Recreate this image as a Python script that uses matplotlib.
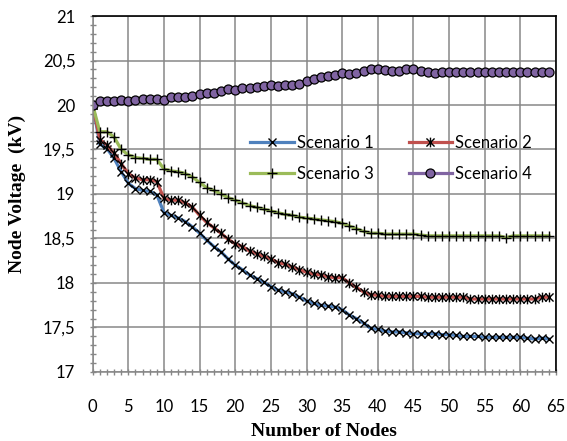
import matplotlib
matplotlib.use("Agg")
import matplotlib.pyplot as plt
from matplotlib.path import Path
from matplotlib.ticker import MultipleLocator, FuncFormatter

nodes = list(range(65))

scenario_1 = [20.00, 19.56, 19.51, 19.40, 19.25, 19.12, 19.06, 19.04, 19.03, 18.99,
              18.79, 18.76, 18.73, 18.69, 18.63, 18.56, 18.48, 18.41, 18.35, 18.27,
              18.20, 18.15, 18.09, 18.05, 18.01, 17.96, 17.92, 17.90, 17.88, 17.84,
              17.80, 17.77, 17.75, 17.74, 17.73, 17.70, 17.64, 17.60, 17.55, 17.49,
              17.48, 17.46, 17.45, 17.45, 17.44, 17.43, 17.43, 17.43, 17.43, 17.42,
              17.42, 17.41, 17.40, 17.40, 17.40, 17.39, 17.39, 17.39, 17.39, 17.39,
              17.39, 17.38, 17.37, 17.38, 17.37]

scenario_2 = [20.00, 19.61, 19.55, 19.46, 19.34, 19.23, 19.18, 19.16, 19.16, 19.14,
              18.95, 18.93, 18.93, 18.90, 18.85, 18.76, 18.68, 18.62, 18.56, 18.49,
              18.44, 18.41, 18.36, 18.33, 18.30, 18.27, 18.23, 18.21, 18.18, 18.15,
              18.12, 18.10, 18.09, 18.07, 18.06, 18.06, 18.00, 17.95, 17.90, 17.87,
              17.86, 17.85, 17.85, 17.85, 17.85, 17.85, 17.85, 17.84, 17.84, 17.84,
              17.84, 17.84, 17.84, 17.82, 17.82, 17.82, 17.82, 17.82, 17.82, 17.82,
              17.82, 17.82, 17.82, 17.84, 17.84]

scenario_3 = [20.00, 19.70, 19.70, 19.64, 19.50, 19.44, 19.41, 19.40, 19.39, 19.39,
              19.28, 19.26, 19.25, 19.23, 19.19, 19.13, 19.07, 19.04, 19.00, 18.96,
              18.93, 18.90, 18.87, 18.85, 18.83, 18.81, 18.79, 18.77, 18.76, 18.74,
              18.73, 18.72, 18.71, 18.70, 18.69, 18.67, 18.64, 18.61, 18.58, 18.56,
              18.56, 18.55, 18.55, 18.55, 18.55, 18.55, 18.54, 18.53, 18.53, 18.53,
              18.53, 18.53, 18.53, 18.53, 18.53, 18.53, 18.53, 18.53, 18.51, 18.53,
              18.53, 18.53, 18.53, 18.53, 18.53]

scenario_4 = [20.00, 20.04, 20.05, 20.04, 20.06, 20.05, 20.06, 20.07, 20.07, 20.07,
              20.06, 20.09, 20.09, 20.09, 20.10, 20.12, 20.13, 20.14, 20.16, 20.18,
              20.17, 20.19, 20.19, 20.20, 20.21, 20.22, 20.21, 20.22, 20.22, 20.24,
              20.27, 20.29, 20.31, 20.33, 20.34, 20.36, 20.35, 20.36, 20.38, 20.40,
              20.41, 20.39, 20.38, 20.38, 20.40, 20.40, 20.38, 20.37, 20.36, 20.37,
              20.37, 20.37, 20.37, 20.37, 20.37, 20.37, 20.37, 20.37, 20.37, 20.37,
              20.37, 20.37, 20.37, 20.37, 20.37]

labels = ["Scenario 1", "Scenario 2", "Scenario 3", "Scenario 4"]

# x with a vertical bar, like the Excel star marker
star = Path([(-1, -1), (1, 1), (-1, 1), (1, -1), (0, -1.2), (0, 1.2)],
            [Path.MOVETO, Path.LINETO, Path.MOVETO, Path.LINETO, Path.MOVETO, Path.LINETO])

tick_font = "Lato"
label_font = "Liberation Serif"

fig = plt.figure(figsize=(5.67, 4.41), dpi=100)
ax = fig.add_axes([0.1635, 0.1565, 0.8171, 0.8072])

lw = 2.3
l1, = ax.plot(nodes, scenario_1, color="#4F81BD", lw=lw, marker="x", ms=6,
              mec="black", mew=1.0)
l2, = ax.plot(nodes, scenario_2, color="#C0504D", lw=lw, marker=star, ms=7,
              mec="black", mew=1.0)
l3, = ax.plot(nodes, scenario_3, color="#9BBB59", lw=lw, marker="+", ms=7,
              mec="black", mew=1.0)
l4, = ax.plot(nodes, scenario_4, color="#8064A2", lw=lw, marker="o", ms=6.5,
              mfc="#8064A2", mec="black", mew=0.9)

ax.set_xlim(0, 65)
ax.set_ylim(17, 21)
ax.xaxis.set_major_locator(MultipleLocator(5))
ax.xaxis.set_minor_locator(MultipleLocator(1))
ax.yaxis.set_major_locator(MultipleLocator(0.5))
ax.yaxis.set_minor_locator(MultipleLocator(0.1))
ax.yaxis.set_major_formatter(FuncFormatter(lambda v, p: f"{v:g}".replace(".", ",")))

ax.grid(True, which="major", color="#878787", lw=1.1)
ax.set_axisbelow(True)

ax.tick_params(which="both", direction="inout", length=5, width=1, color="#878787")
ax.tick_params(axis="x", which="major", pad=17, labelsize=12)
ax.tick_params(axis="y", which="major", pad=10, labelsize=12)
for lab in ax.get_xticklabels() + ax.get_yticklabels():
    lab.set_family(tick_font)

for side in ["left", "bottom"]:
    ax.spines[side].set_color("#878787")
    ax.spines[side].set_linewidth(1.1)
for side in ["top", "right"]:
    ax.spines[side].set_color("black")
    ax.spines[side].set_linewidth(1.2)

ax.set_xlabel("Number of Nodes", family=label_font, weight="bold", fontsize=14, labelpad=6)
ax.set_ylabel("Node Voltage  (kV)", family=label_font, weight="bold", fontsize=14)
ax.yaxis.set_label_coords(-0.145, 0.5)

leg = ax.legend([l1, l3, l2, l4], [labels[0], labels[2], labels[1], labels[3]],
                ncol=2, frameon=False, loc="upper left", bbox_to_anchor=(0.34, 0.665),
                handlelength=2.6, handletextpad=0.2, columnspacing=2.1,
                labelspacing=0.9, borderpad=0, borderaxespad=0,
                prop={"family": tick_font, "size": 12})

fig.savefig("out.png", dpi=100)
